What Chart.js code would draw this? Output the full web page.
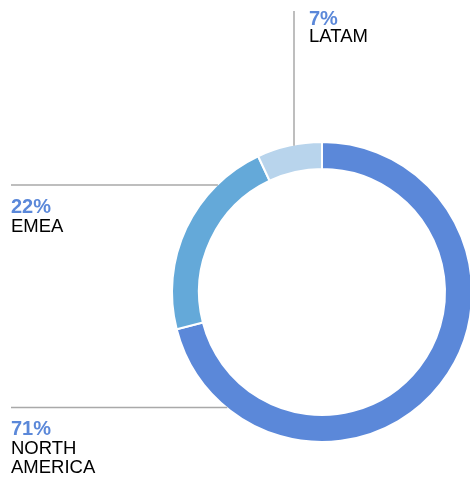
<!DOCTYPE html>
<html>
<head>
<meta charset="utf-8">
<script src="https://cdn.jsdelivr.net/npm/chart.js@4"></script>
<style>
  html, body { margin: 0; padding: 0; background: #fff; overflow: hidden; }
  #wrap { width: 470px; height: 477px; overflow: hidden; }
  canvas { display: block; }
</style>
</head>
<body>
<div id="wrap"><canvas id="regionChart" width="480" height="477"></canvas></div>
<script>
// Revenue share by region
const regions = ['NORTH AMERICA', 'EMEA', 'LATAM'];
const regionLines = [['NORTH', 'AMERICA'], ['EMEA'], ['LATAM']];
const shares = [71, 22, 7];
const sliceColors = ['#5b88d9', '#64a9d9', '#b8d4ec'];

// leader lines + labels, drawn after the doughnut
const calloutPlugin = {
    id: 'callouts',
    afterDraw: function (chart) {
        const ctx = chart.ctx;
        const arc = chart.getDatasetMeta(0).data[0];
        const cx = arc.x, cy = arc.y, r = arc.outerRadius;

        ctx.save();
        ctx.strokeStyle = '#a9a9a9';
        ctx.lineWidth = 1.5;

        // NORTH AMERICA: horizontal line at bottom left
        let y = 407.5;
        ctx.beginPath();
        ctx.moveTo(11, y);
        ctx.lineTo(cx - Math.sqrt(r * r - (y - cy) * (y - cy)) + 1, y);
        ctx.stroke();

        // EMEA: horizontal line at upper left
        y = 185;
        ctx.beginPath();
        ctx.moveTo(11, y);
        ctx.lineTo(cx - Math.sqrt(r * r - (y - cy) * (y - cy)) + 1, y);
        ctx.stroke();

        // LATAM: vertical line above the ring
        const x = 294;
        ctx.beginPath();
        ctx.moveTo(x, 11);
        ctx.lineTo(x, cy - Math.sqrt(r * r - (x - cx) * (x - cx)) + 1);
        ctx.stroke();

        const spots = [
            {x: 11, y: 435, gap: 19},
            {x: 11, y: 213, gap: 19},
            {x: 309, y: 25, gap: 16.5}
        ];
        ctx.textAlign = 'left';
        ctx.textBaseline = 'alphabetic';
        spots.forEach(function (s, i) {
            ctx.fillStyle = sliceColors[0];
            ctx.font = 'bold 20px "Liberation Sans", Arial, sans-serif';
            ctx.fillText(shares[i] + '%', s.x, s.y);
            ctx.fillStyle = '#000';
            ctx.font = '18.5px "Liberation Sans", Arial, sans-serif';
            regionLines[i].forEach(function (t, j) {
                ctx.fillText(t, s.x, s.y + s.gap * (j + 1));
            });
        });
        ctx.restore();
    }
};

new Chart(document.getElementById('regionChart'), {
    type: 'doughnut',
    data: {
        labels: regions,
        datasets: [{
            data: shares,
            backgroundColor: sliceColors,
            borderColor: '#ffffff',
            borderWidth: 2,
            hoverOffset: 0
        }]
    },
    options: {
        responsive: false,
        animation: false,
        cutout: '82%',
        layout: {
            padding: {left: 171, right: 7, top: 141, bottom: 34}
        },
        plugins: {
            legend: {display: false},
            tooltip: {enabled: false}
        }
    },
    plugins: [calloutPlugin]
});
</script>
</body>
</html>
